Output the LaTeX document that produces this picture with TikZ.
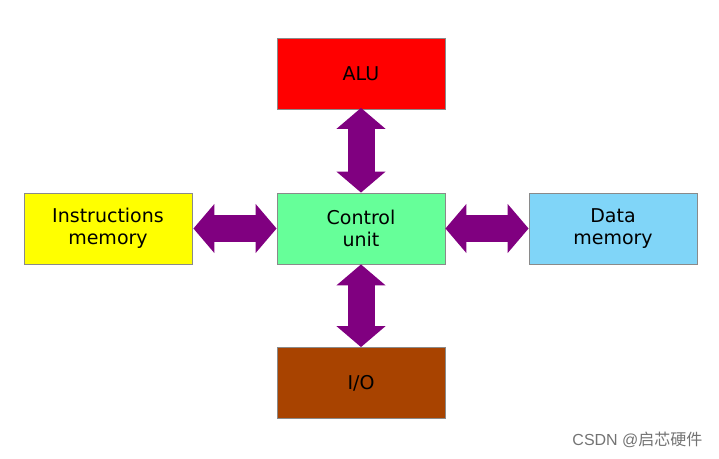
\documentclass[tikz,border=0pt]{standalone}
\usepackage{fontspec}
\setmainfont{DejaVu Sans}
\newfontfamily\cjkfont{Noto Sans CJK SC}
\newfontfamily\wmfont{Liberation Sans}
\usetikzlibrary{arrows.meta}
\definecolor{cured}{HTML}{FF0000}
\definecolor{cugreen}{HTML}{66FF99}
\definecolor{cuyellow}{HTML}{FFFF00}
\definecolor{cublue}{HTML}{80D5F8}
\definecolor{cubrown}{HTML}{A84300}
\definecolor{cupurple}{HTML}{800080}
\definecolor{cuborder}{HTML}{8A8A8A}
\begin{document}
\begin{tikzpicture}[x=1pt,y=-1pt,
  unitbox/.style={draw=cuborder, line width=0.8pt, minimum width=168pt, minimum height=71pt,
    inner sep=0pt, align=center, font=\fontsize{19}{22}\selectfont, text=black},
  bigarrow/.style={cupurple, line width=27pt,
    {Triangle[length=21pt,width=48pt]}-{Triangle[length=21pt,width=48pt]}}]
\useasboundingbox (0,0) rectangle (719,458);
\node[unitbox, fill=cured] (alu) at (361,74) {ALU};
\node[unitbox, fill=cugreen] (cu) at (361,228.5) {Control\\unit};
\node[unitbox, fill=cuyellow] (im) at (108,228.5) {Instructions\\memory};
\node[unitbox, fill=cublue] (dm) at (613,228.5) {Data\\memory};
\node[unitbox, fill=cubrown] (io) at (361,383) {I/O};
\draw[bigarrow] ([yshift=2pt]alu.south) -- (cu.north);
\draw[bigarrow] (cu.south) -- (io.north);
\draw[bigarrow] ([xshift=1pt]im.east) -- (cu.west);
\draw[bigarrow] (cu.east) -- (dm.west);
\node[anchor=east, text=black!55, font=\fontsize{16}{18}\selectfont] (wm) at (706,440)
  {\wmfont CSDN @\cjkfont 启芯硬件};
\end{tikzpicture}
\end{document}
